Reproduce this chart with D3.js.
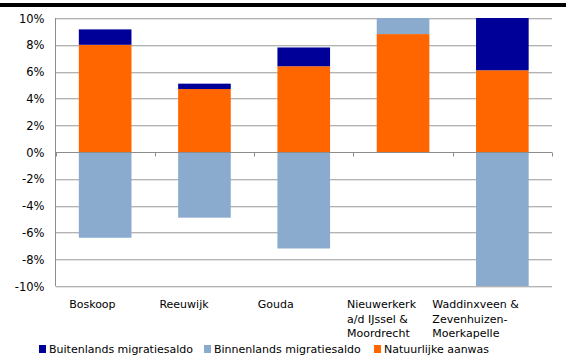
<!DOCTYPE html>
<html>
<head>
<meta charset="utf-8">
<script src="https://cdn.jsdelivr.net/npm/d3@7"></script>
<style>
  html, body { margin: 0; padding: 0; background: #fff; }
  svg { display: block; font-family: "DejaVu Sans", Verdana, sans-serif; }
</style>
</head>
<body>
<svg id="chart" width="566" height="356"></svg>
<script>
// Bevolkingsgroei per gemeente, opgesplitst naar component (% van de bevolking)
const categories = [
  ["Boskoop"],
  ["Reeuwijk"],
  ["Gouda"],
  ["Nieuwerkerk", "a/d IJssel &", "Moordrecht"],
  ["Waddinxveen &", "Zevenhuizen-", "Moerkapelle"]
];
const natuurlijkeAanwas      = [8.0, 4.7, 6.4, 8.8, 6.1];
const binnenlandsMigratie    = [-6.4, -4.9, -7.2, 1.3, -10.6];
const buitenlandsMigratie    = [1.15, 0.4, 1.4, 0.6, 4.3];
const yTicks = [-10, -8, -6, -4, -2, 0, 2, 4, 6, 8, 10];

const seriesNames  = ["Buitenlands migratiesaldo", "Binnenlands migratiesaldo", "Natuurlijke aanwas"];
const seriesColors = ["#000099", "#8AAACE", "#FF6600"];

const svg = d3.select("#chart");
const W = 566, H = 356;
const plot = { left: 55.5, right: 552, top: 18, bottom: 286 };

// top rule
svg.append("rect").attr("x", 0).attr("y", 3).attr("width", W).attr("height", 4).attr("fill", "#000");

const x = d3.scaleBand()
  .domain(d3.range(categories.length))
  .range([plot.left, plot.right])
  .paddingInner(0.47).paddingOuter(0.235);
const xStep = d3.scaleBand().domain(d3.range(categories.length)).range([plot.left, plot.right]);
const y = d3.scaleLinear().domain([-10, 10]).range([plot.bottom, plot.top]);

// gridlines
const grid = svg.append("g");
yTicks.filter(t => t !== 0).forEach(t => {
  const yy = Math.round(y(t)) + 0.5;
  grid.append("line").attr("x1", plot.left).attr("x2", plot.right)
    .attr("y1", yy + 1).attr("y2", yy + 1).attr("stroke", "#e4e4e4").attr("stroke-width", 1);
  grid.append("line").attr("x1", plot.left).attr("x2", plot.right)
    .attr("y1", yy).attr("y2", yy).attr("stroke", "#b3b3b3").attr("stroke-width", 1);
});

// stacked bars: positive values stack upward, negative values downward
const clip = svg.append("clipPath").attr("id", "plotclip").append("rect")
  .attr("x", plot.left).attr("y", plot.top).attr("width", plot.right - plot.left).attr("height", plot.bottom - plot.top);
const bars = svg.append("g").attr("clip-path", "url(#plotclip)");
const stackOrder = [
  { values: natuurlijkeAanwas, color: seriesColors[2] },
  { values: binnenlandsMigratie, color: seriesColors[1] },
  { values: buitenlandsMigratie, color: seriesColors[0] }
];
categories.forEach((c, i) => {
  let pos = 0, neg = 0;
  stackOrder.forEach(s => {
    const v = s.values[i];
    let y0, y1;
    if (v >= 0) { y0 = pos; y1 = pos + v; pos = y1; }
    else { y0 = neg; y1 = neg + v; neg = y1; }
    bars.append("rect")
      .attr("x", x(i)).attr("width", x.bandwidth())
      .attr("y", y(Math.max(y0, y1))).attr("height", Math.abs(y(y0) - y(y1)))
      .attr("fill", s.color);
  });
});

// axes
const axisColor = "#8c8c8c";
svg.append("line").attr("x1", plot.left).attr("x2", plot.left)
  .attr("y1", plot.top).attr("y2", plot.bottom).attr("stroke", axisColor);
const zy = Math.round(y(0)) + 0.5;
svg.append("line").attr("x1", plot.left).attr("x2", plot.right)
  .attr("y1", zy).attr("y2", zy).attr("stroke", axisColor);
d3.range(categories.length + 1).forEach(i => {
  const tx = Math.round(i < categories.length ? xStep(i) : plot.right) + 0.5;
  svg.append("line").attr("x1", tx).attr("x2", tx).attr("y1", zy).attr("y2", zy + 4).attr("stroke", axisColor);
});

const yAxis = d3.axisLeft(y).tickValues(yTicks).tickSize(0).tickPadding(0)
  .tickFormat(d => d + "%");
svg.append("g").attr("transform", `translate(${plot.left - 11},0)`).call(yAxis)
  .call(g => g.select(".domain").remove())
  .call(g => g.selectAll("text").attr("font-size", 11.5).attr("fill", "#000")
    .attr("font-family", "DejaVu Sans, Verdana, sans-serif").attr("dy", "0.36em"));

// category labels
const labelShift = [-36, -45, -46, -56, -70];
categories.forEach((lines, i) => {
  const t = svg.append("text")
    .attr("x", xStep(i) + xStep.bandwidth() / 2 + labelShift[i])
    .attr("y", 308).attr("font-size", 11).attr("fill", "#000");
  lines.forEach((ln, k) => {
    t.append("tspan").attr("x", xStep(i) + xStep.bandwidth() / 2 + labelShift[i])
      .attr("y", 308 + k * 14.5).text(ln);
  });
});

// legend
const legendX = [39, 204, 374];
seriesNames.forEach((n, i) => {
  svg.append("rect").attr("x", legendX[i]).attr("y", 345).attr("width", 7).attr("height", 8)
    .attr("fill", seriesColors[i]);
  svg.append("text").attr("x", legendX[i] + 10).attr("y", 353)
    .attr("font-size", 11).attr("fill", "#000").text(n);
});
</script>
</body>
</html>
